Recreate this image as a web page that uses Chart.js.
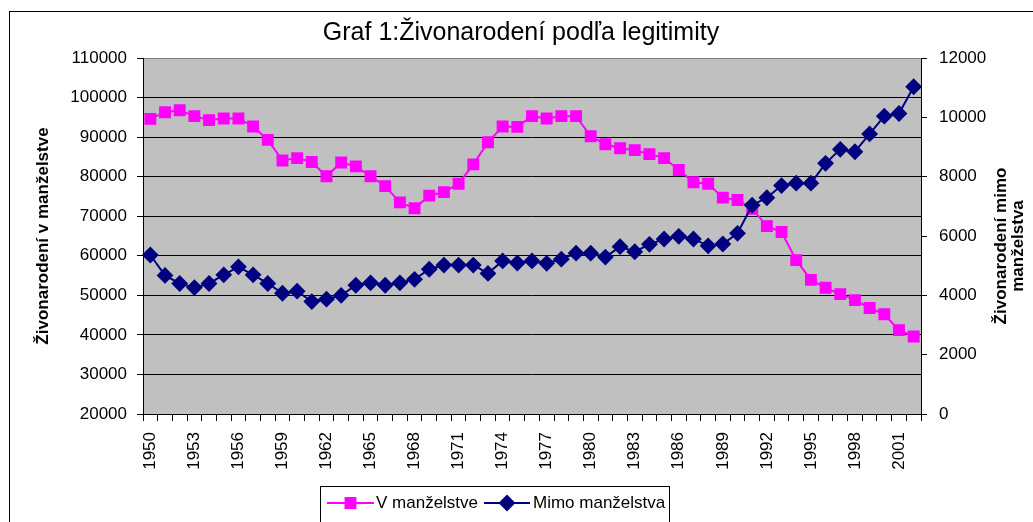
<!DOCTYPE html>
<html lang="sk">
  <head>
    <meta charset="UTF-8" />
    <title>Graf 1: Živonarodení podľa legitimity</title>
    <script src="https://cdn.jsdelivr.net/npm/chart.js"></script>
    <style>
      body { margin: 0; background: #fff; }
      canvas { display: block; }
    </style>
  </head>
  <body>
    <canvas id="chart" width="1033" height="522"></canvas>

    <script>
      // -------- data -------- //
      const years = [
        1950, 1951, 1952, 1953, 1954, 1955, 1956, 1957, 1958, 1959,
        1960, 1961, 1962, 1963, 1964, 1965, 1966, 1967, 1968, 1969,
        1970, 1971, 1972, 1973, 1974, 1975, 1976, 1977, 1978, 1979,
        1980, 1981, 1982, 1983, 1984, 1985, 1986, 1987, 1988, 1989,
        1990, 1991, 1992, 1993, 1994, 1995, 1996, 1997, 1998, 1999,
        2000, 2001, 2002,
      ];

      // živonarodení v manželstve (ľavá os)
      const inMarriage = [
        94600, 96300, 96800, 95300, 94300, 94700, 94700, 92700, 89300, 84100,
        84700, 83700, 80100, 83600, 82600, 80100, 77600, 73500, 72000, 75200,
        76100, 78200, 83100, 88700, 92700, 92600, 95300, 94700, 95300, 95300,
        90200, 88200, 87200, 86700, 85700, 84700, 81700, 78600, 78200, 74700,
        74100, 71900, 67500, 66000, 58900, 53900, 51900, 50300, 48800, 46800,
        45200, 41200, 39600,
      ];

      // živonarodení mimo manželstva (pravá os)
      const outsideMarriage = [
        5360, 4670, 4400, 4260, 4400, 4690, 4960, 4690, 4400, 4070,
        4140, 3790, 3870, 4000, 4340, 4420, 4340, 4420, 4540, 4880,
        5020, 5020, 5020, 4740, 5160, 5090, 5160, 5080, 5220, 5420,
        5420, 5290, 5640, 5470, 5720, 5900, 5990, 5900, 5670, 5730,
        6090, 7040, 7290, 7700, 7780, 7780, 8450, 8920, 8840, 9440,
        10040, 10130, 11030,
      ];

      const leftTicks = { min: 20000, max: 110000, step: 10000 };
      const rightTicks = { min: 0, max: 12000, step: 2000 };

      const titleText = "Graf 1:Živonarodení podľa legitimity";
      const leftTitle = "Živonarodení v manželstve";
      const rightTitle = ["Živonarodení mimo", "manželstva"];

      const FONT = "'Liberation Sans', Arial, sans-serif";
      Chart.defaults.color = "#000";
      Chart.defaults.font.family = FONT;

      // -------- pozadie, rám, pravý nadpis osi, legenda -------- //
      const excelLook = {
        id: "excelLook",
        beforeDraw(chart) {
          const { ctx, chartArea: a } = chart;
          ctx.save();
          ctx.fillStyle = "#fff";
          ctx.fillRect(0, 0, chart.width, chart.height);
          ctx.strokeStyle = "#000";
          ctx.lineWidth = 1;
          ctx.strokeRect(9.5, 11.5, 1040, 540);
          ctx.fillStyle = "#c0c0c0";
          ctx.fillRect(a.left, a.top, a.right - a.left, a.bottom - a.top);
          ctx.restore();
        },
        afterDraw(chart) {
          const { ctx } = chart;
          ctx.save();

          // pravý nadpis osi (otočený ako ľavý)
          ctx.translate(1001, 246);
          ctx.rotate(-Math.PI / 2);
          ctx.font = "bold 17px " + FONT;
          ctx.fillStyle = "#000";
          ctx.textAlign = "center";
          ctx.textBaseline = "middle";
          ctx.fillText(rightTitle[0], 0, 0);
          ctx.fillText(rightTitle[1], 0, 17);
          ctx.setTransform(1, 0, 0, 1, 0, 0);

          // legenda
          ctx.strokeStyle = "#000";
          ctx.lineWidth = 1;
          ctx.strokeRect(320.5, 486.5, 349, 60);
          const y = 503;
          const items = [
            { ds: chart.data.datasets[0], x0: 327, x1: 374, tx: 376 },
            { ds: chart.data.datasets[1], x0: 484, x1: 530, tx: 533 },
          ];
          ctx.font = "17px " + FONT;
          ctx.textAlign = "left";
          items.forEach(({ ds, x0, x1, tx }) => {
            ctx.strokeStyle = ds.borderColor;
            ctx.lineWidth = 2;
            ctx.beginPath();
            ctx.moveTo(x0, y);
            ctx.lineTo(x1, y);
            ctx.stroke();
            Chart.helpers.drawPoint(
              ctx,
              { pointStyle: ds.pointStyle, radius: ds.pointRadius, borderWidth: 1 },
              (x0 + x1) / 2,
              y
            );
            ctx.fillStyle = ds.pointBackgroundColor;
            ctx.fill();
            ctx.fillStyle = "#000";
            ctx.fillText(ds.label, tx, y);
          });
          ctx.restore();
        },
      };

      const plain = (v) => String(v);

      new Chart(document.getElementById("chart"), {
        type: "line",
        data: {
          labels: years,
          datasets: [
            {
              label: "V manželstve",
              data: inMarriage,
              yAxisID: "y",
              order: 1,
              borderColor: "#ff00ff",
              backgroundColor: "#ff00ff",
              pointBackgroundColor: "#ff00ff",
              pointBorderColor: "#ff00ff",
              pointStyle: "rect",
              pointRadius: 7,
              borderWidth: 2,
              tension: 0,
            },
            {
              label: "Mimo manželstva",
              data: outsideMarriage,
              yAxisID: "y1",
              order: 0,
              borderColor: "#000080",
              backgroundColor: "#000080",
              pointBackgroundColor: "#000080",
              pointBorderColor: "#000080",
              pointStyle: "rectRot",
              pointRadius: 7,
              borderWidth: 2,
              tension: 0,
            },
          ],
        },
        options: {
          responsive: false,
          animation: false,
          devicePixelRatio: 1,
          layout: { padding: { left: 9, right: 0, top: 0, bottom: 0 } },
          plugins: {
            legend: { display: false },
            tooltip: { enabled: false },
            title: {
              display: true,
              text: titleText,
              color: "#000",
              font: { size: 25, weight: "normal", family: FONT },
              padding: { top: 18, bottom: 10 },
            },
          },
          scales: {
            x: {
              offset: true,
              grid: { offset: true, drawOnChartArea: false, tickLength: 7, tickColor: "#000" },
              border: { color: "#000", width: 1 },
              ticks: {
                autoSkip: false,
                minRotation: 90,
                maxRotation: 90,
                padding: 11,
                font: { size: 17 },
                callback: (v, i) => (i % 3 === 0 ? years[i] : ""),
              },
              afterFit: (s) => { s.height = 108; },
            },
            y: {
              position: "left",
              min: leftTicks.min,
              max: leftTicks.max,
              ticks: { stepSize: leftTicks.step, padding: 10, font: { size: 17 }, callback: plain },
              grid: {
                color: (c) => (c.tick && c.tick.value === leftTicks.max ? "#808080" : "#000"),
                tickColor: "#000",
                tickLength: 6,
              },
              border: { color: "#000", width: 1 },
              title: {
                display: true,
                text: leftTitle,
                font: { size: 17, weight: "bold" },
                padding: { top: 24, bottom: 0 },
              },
              afterFit: (s) => { s.width = 134; },
            },
            y1: {
              position: "right",
              min: rightTicks.min,
              max: rightTicks.max,
              ticks: { stepSize: rightTicks.step, padding: 12, font: { size: 17 }, callback: plain },
              grid: { drawOnChartArea: false, tickColor: "#000", tickLength: 6 },
              border: { color: "#000", width: 1 },
              afterFit: (s) => { s.width = 112; },
            },
          },
        },
        plugins: [excelLook],
      });
    </script>
  </body>
</html>
